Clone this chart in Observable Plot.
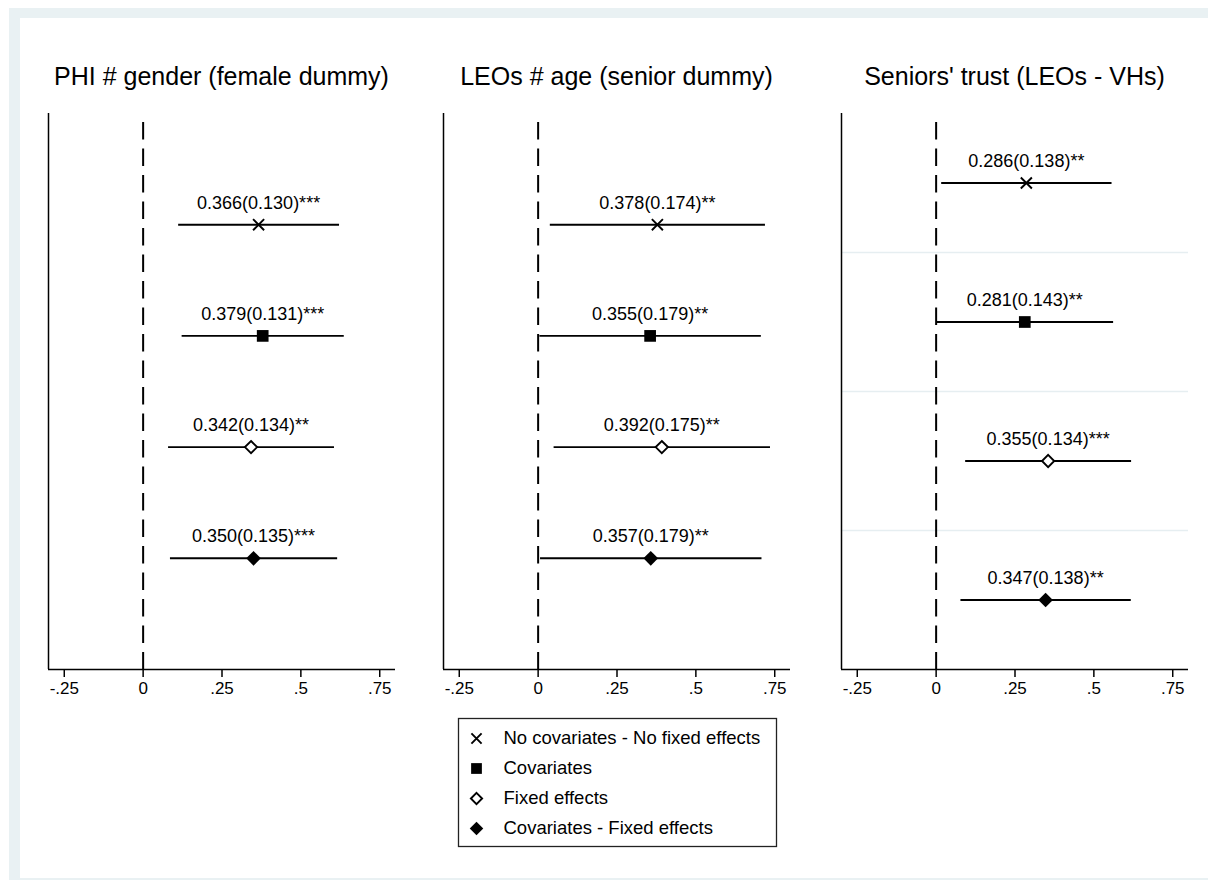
<!DOCTYPE html>
<html>
<head>
<meta charset="utf-8">
<script src="https://cdn.jsdelivr.net/npm/d3@7"></script>
<script src="https://cdn.jsdelivr.net/npm/@observablehq/plot@0.6"></script>
<style>
  html, body { margin: 0; padding: 0; background: #ffffff; }
  #page { position: relative; width: 1208px; height: 880px; background: #ffffff; overflow: hidden;
          font-family: "Liberation Sans", Arial, sans-serif; color: #000; }
  #band { position: absolute; left: 9px; top: 8px; right: 0; bottom: 0; background: #e9f1f3; }
  #inner { position: absolute; left: 20px; top: 18px; right: 0; bottom: 2px; background: #ffffff; }
  .title { position: absolute; top: 64px; font-size: 25px; line-height: 25px; text-align: center; white-space: nowrap; }
  .panel { position: absolute; top: 100px; }
  .panel svg, #legend svg { overflow: visible; }
  #legend { position: absolute; left: 458px; top: 718px; }
</style>
</head>
<body>
<div id="page">
  <div id="band"></div>
  <div id="inner"></div>
</div>
<script>
// Panel titles and model specifications
const panelTitles = ["PHI # gender (female dummy)", "LEOs # age (senior dummy)", "Seniors' trust (LEOs - VHs)"];
const models = ["No covariates - No fixed effects", "Covariates", "Fixed effects", "Covariates - Fixed effects"];

// x-axis ticks
const tickValues = [-0.25, 0, 0.25, 0.5, 0.75];
const tickLabels = ["-.25", "0", ".25", ".5", ".75"];

// PHI # gender (female dummy)
const phiEst = [0.366, 0.379, 0.342, 0.350];
const phiSE = [0.130, 0.131, 0.134, 0.135];
const phiStars = ["***", "***", "**", "***"];
const phiLow = [0.111, 0.122, 0.079, 0.085];
const phiHigh = [0.621, 0.636, 0.605, 0.615];

// LEOs # age (senior dummy)
const leoEst = [0.378, 0.355, 0.392, 0.357];
const leoSE = [0.174, 0.179, 0.175, 0.179];
const leoStars = ["**", "**", "**", "**"];
const leoLow = [0.037, 0.004, 0.049, 0.006];
const leoHigh = [0.719, 0.706, 0.735, 0.708];

// Seniors' trust (LEOs - VHs)
const trustEst = [0.286, 0.281, 0.355, 0.347];
const trustSE = [0.138, 0.143, 0.134, 0.138];
const trustStars = ["**", "**", "***", "**"];
const trustLow = [0.016, 0.001, 0.092, 0.077];
const trustHigh = [0.556, 0.561, 0.618, 0.617];

// Row positions and vertical extent of each panel
const rowPos = [1, 2, 3, 4];
const yDomains = [[0, 5], [0, 5], [0.5, 4.5]];
const gridRows = [[], [], [1.5, 2.5, 3.5]];

// Marker styles per model
const symbols = ["times", "square", "diamond2", "diamond2"];
const symbolFill = ["none", "black", "white", "black"];
const symbolStroke = ["black", "none", "black", "none"];
const symbolR = [5.1, 6.6, 5.5, 6.6];

const FONT = '"Liberation Sans", Arial, sans-serif';
const panelLefts = [28, 423, 821];
const page = document.getElementById("page");

function buildRows(est, se, stars, low, high) {
  return models.map((m, i) => ({
    model: m, k: i, row: rowPos[i], est: est[i], se: se[i],
    low: low[i], high: high[i],
    label: est[i].toFixed(3) + "(" + se[i].toFixed(3) + ")" + stars[i]
  }));
}

const panelData = [
  buildRows(phiEst, phiSE, phiStars, phiLow, phiHigh),
  buildRows(leoEst, leoSE, leoStars, leoLow, leoHigh),
  buildRows(trustEst, trustSE, trustStars, trustLow, trustHigh)
];
const ticks = tickValues.map((v, i) => ({ v, label: tickLabels[i] }));

panelData.forEach((rows, p) => {
  const [yTop, yBottom] = yDomains[p];
  const dotMarks = models.map((m, k) =>
    Plot.dot(rows.filter(d => d.k === k), {
      x: "est", y: "row", symbol: () => symbols[k], r: symbolR[k],
      fill: symbolFill[k], stroke: symbolStroke[k], strokeWidth: 1.9
    })
  );
  const chart = Plot.plot({
    width: 387, height: 614,
    marginLeft: 20, marginRight: 20, marginTop: 13, marginBottom: 45,
    style: { fontFamily: FONT, color: "black", background: "transparent" },
    x: { domain: [-0.3, 0.8] },
    y: { domain: [yTop, yBottom], reverse: true, axis: null },
    symbol: { type: "identity" },
    marks: [
      Plot.ruleY(gridRows[p], { stroke: "#e6eef1", strokeWidth: 1.6 }),
      Plot.link([{ x: 0, y1: yBottom, y2: yTop }], {
        x1: "x", x2: "x", y1: "y1", y2: "y2",
        stroke: "black", strokeWidth: 2, strokeDasharray: "17.5,9"
      }),
      Plot.ruleX([-0.3], { stroke: "black", strokeWidth: 1.5 }),
      Plot.ruleY([yBottom], { stroke: "black", strokeWidth: 1.5 }),
      // tick marks below the axis line
      Plot.axisX(tickValues, {
        anchor: "bottom", tickSize: 8, stroke: "black", strokeWidth: 1.5,
        tickFormat: () => ""
      }),
      // tick labels
      Plot.text(ticks, {
        x: "v", text: "label", frameAnchor: "bottom", dy: 24, lineAnchor: "bottom",
        fontSize: 17, fill: "black"
      }),
      Plot.link(rows, { x1: "low", x2: "high", y1: "row", y2: "row", stroke: "black", strokeWidth: 1.9 }),
      ...dotMarks,
      Plot.text(rows, {
        x: "est", y: "row", text: "label", dy: -16, lineAnchor: "bottom",
        fontSize: 18, fill: "black"
      })
    ]
  });
  const wrap = document.createElement("div");
  wrap.className = "panel";
  wrap.style.left = panelLefts[p] + "px";
  wrap.appendChild(chart);
  page.appendChild(wrap);

  const title = document.createElement("div");
  title.className = "title";
  title.textContent = panelTitles[p];
  title.style.left = (panelLefts[p] + 20) + "px";
  title.style.width = "347px";
  page.appendChild(title);
});

// Legend box
const legendRows = models.map((m, k) => ({ model: m, k }));
const legend = Plot.plot({
  width: 318, height: 128,
  margin: 0,
  style: { fontFamily: FONT, color: "black", background: "white" },
  x: { domain: [0, 318], range: [0, 318], axis: null },
  y: { type: "point", domain: models, range: [19, 110], padding: 0, axis: null },
  marks: [
    Plot.frame({ stroke: "#222", strokeWidth: 1.3 }),
    ...models.map((m, k) =>
      Plot.dot(legendRows.filter(d => d.k === k), {
        x: () => 18, y: "model", symbol: () => symbols[k], r: symbolR[k] * 0.92,
        fill: symbolFill[k], stroke: symbolStroke[k], strokeWidth: 1.9
      })
    ),
    Plot.text(legendRows, { x: () => 45, y: "model", text: "model", textAnchor: "start", fontSize: 18.5, fill: "black" })
  ]
});
const legendWrap = document.createElement("div");
legendWrap.id = "legend";
legendWrap.appendChild(legend);
page.appendChild(legendWrap);
</script>
</body>
</html>
